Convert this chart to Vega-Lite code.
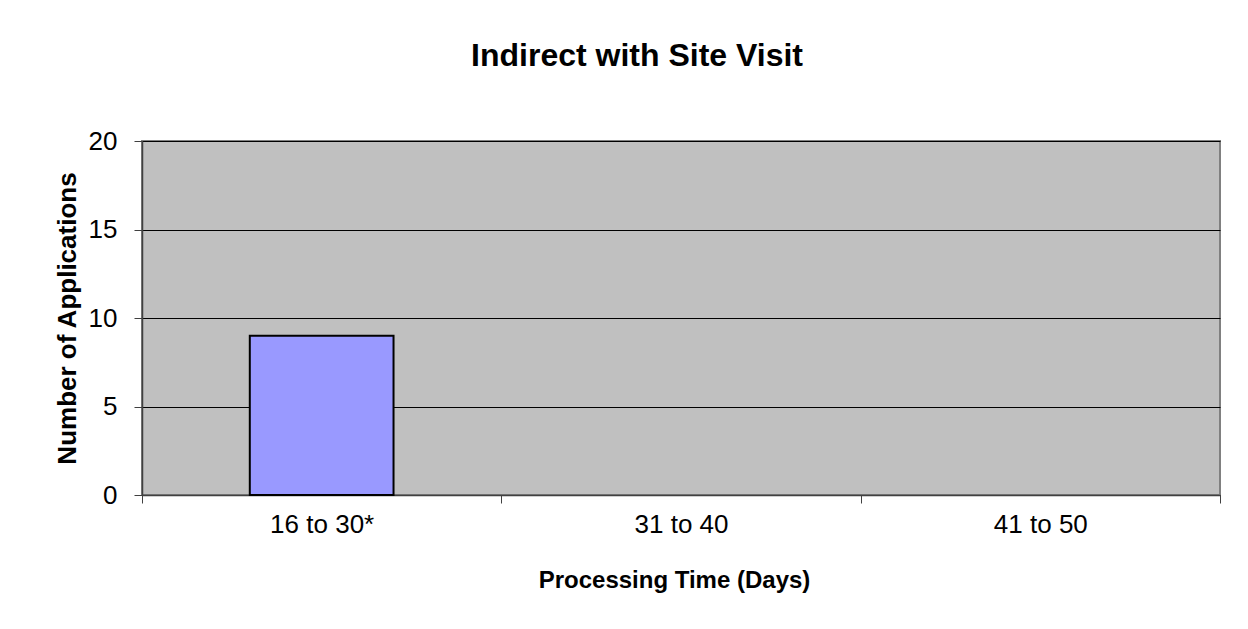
{
  "$schema": "https://vega.github.io/schema/vega-lite/v6.json",
  "width": 1078,
  "height": 354,
  "autosize": {"type": "none"},
  "padding": {"left": 142, "top": 141, "right": 28, "bottom": 134},
  "background": "white",
  "title": {
    "text": "Indirect with Site Visit",
    "font": "Liberation Sans",
    "fontSize": 32,
    "fontWeight": "bold",
    "color": "black",
    "anchor": "middle",
    "dx": -44,
    "offset": 55
  },
  "data": {
    "values": [
      {"range": "16 to 30*", "count": 9},
      {"range": "31 to 40", "count": 0},
      {"range": "41 to 50", "count": 0}
    ]
  },
  "mark": {"type": "bar", "fill": "#9999FF", "stroke": "black", "width": {"band": 0.4}},
  "encoding": {
    "x": {
      "field": "range",
      "type": "nominal",
      "sort": null,
      "scale": {"paddingInner": 0, "paddingOuter": 0},
      "axis": {
        "title": "Processing Time (Days)",
        "labelAngle": 0,
        "tickBand": "extent",
        "tickSize": 8,
        "tickColor": "#404040",
        "domainColor": "#404040",
        "domainWidth": 1.5,
        "labelFont": "Liberation Sans",
        "labelFontSize": 26,
        "labelColor": "black",
        "labelPadding": 8,
        "titleFont": "Liberation Sans",
        "titleFontSize": 24,
        "titleFontWeight": "bold",
        "titleColor": "black",
        "titlePadding": 31,
        "titleX": 532,
        "grid": false
      }
    },
    "y": {
      "field": "count",
      "type": "quantitative",
      "scale": {"domain": [0, 20]},
      "axis": {
        "title": "Number of Applications",
        "values": [0, 5, 10, 15, 20],
        "tickSize": 8,
        "tickColor": "#404040",
        "domainColor": "#404040",
        "domainWidth": 1.5,
        "labelFont": "Liberation Sans",
        "labelFontSize": 26,
        "labelColor": "black",
        "labelPadding": 17,
        "titleFont": "Liberation Sans",
        "titleFontSize": 26,
        "titleFontWeight": "bold",
        "titleColor": "black",
        "titlePadding": 8,
        "grid": true,
        "gridColor": "black",
        "gridWidth": 1,
        "gridOpacity": 1
      }
    },
    "strokeWidth": {
      "condition": {"test": "datum.count > 0", "value": 2},
      "value": 0
    }
  },
  "config": {
    "view": {"fill": "#C0C0C0", "stroke": "#808080", "strokeWidth": 2}
  }
}
